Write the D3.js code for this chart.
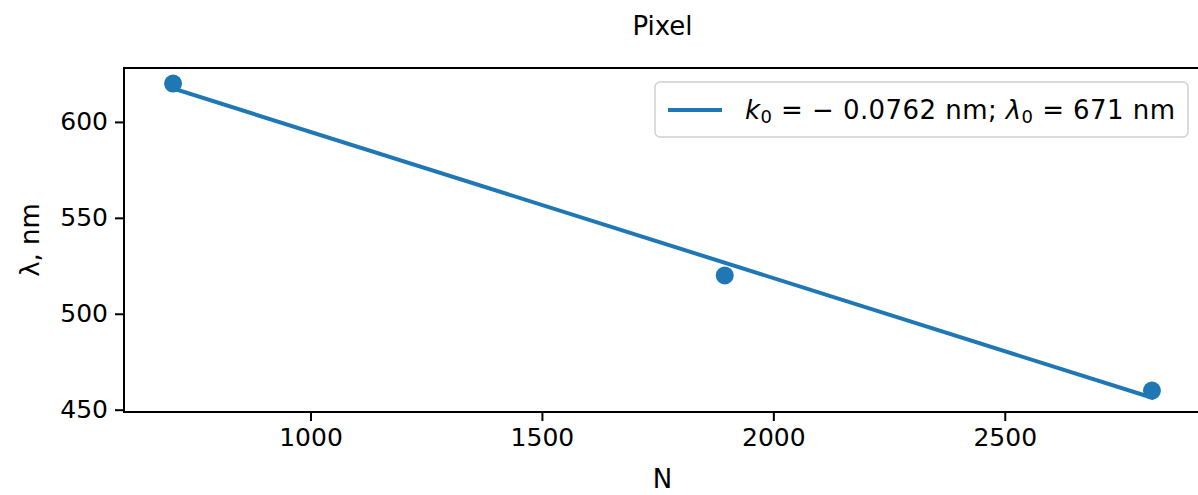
<!DOCTYPE html>
<html>
<head>
<meta charset="utf-8">
<script src="https://cdn.jsdelivr.net/npm/d3@7"></script>
<style>
  html, body { margin: 0; padding: 0; background: #fff; }
  svg { display: block; overflow: hidden; }
  text { font-family: "DejaVu Sans", sans-serif; fill: #000; }
</style>
</head>
<body>
<svg id="chart" width="1198" height="495"></svg>
<script>
// ---- data ----
const pixelN = [703, 1895, 2818];
const wavelength = [620, 520, 460];
const fitK = -0.0762;
const fitL0 = 671;
const xTicks = [1000, 1500, 2000, 2500];
const yTicks = [450, 500, 550, 600];
const xLimits = [597, 2924];
const yLimits = [448.8, 628.1];
const titleText = "Pixel";
const xLabelText = "N";
const yLabelText = "λ, nm";

const color = "#1f77b4";
const svg = d3.select("#chart");
const m = { left: 124, top: 68, right: 1201, bottom: 412 };

const x = d3.scaleLinear().domain(xLimits).range([m.left, m.right]);
const y = d3.scaleLinear().domain(yLimits).range([m.bottom, m.top]);

const fs = 25;

// fit line
const fitPts = pixelN.map(n => [n, fitL0 + fitK * n]);
svg.append("path")
  .datum([fitPts[0], fitPts[fitPts.length - 1]])
  .attr("d", d3.line().x(d => x(d[0])).y(d => y(d[1])))
  .attr("fill", "none").attr("stroke", color).attr("stroke-width", 4)
  .attr("stroke-linecap", "square");

// points
svg.selectAll("circle.pt").data(pixelN.map((n, i) => [n, wavelength[i]]))
  .enter().append("circle").attr("class", "pt")
  .attr("cx", d => x(d[0])).attr("cy", d => y(d[1]))
  .attr("r", 9).attr("fill", color);

// axes
const xAxis = d3.axisBottom(x).tickValues(xTicks).tickSize(9).tickPadding(7).tickFormat(d3.format("d"));
const yAxis = d3.axisLeft(y).tickValues(yTicks).tickSize(9).tickPadding(7).tickFormat(d3.format("d"));

const gx = svg.append("g").attr("transform", `translate(0,${m.bottom})`).call(xAxis);
const gy = svg.append("g").attr("transform", `translate(${m.left},0)`).call(yAxis);
[gx, gy].forEach(g => {
  g.select(".domain").remove();
  g.selectAll(".tick line").attr("stroke", "#000").attr("stroke-width", 2);
  g.selectAll(".tick text").attr("font-size", fs).attr("font-family", "DejaVu Sans").attr("fill", "#000");
});

// frame
svg.append("rect")
  .attr("x", m.left).attr("y", m.top)
  .attr("width", m.right - m.left).attr("height", m.bottom - m.top)
  .attr("fill", "none").attr("stroke", "#000").attr("stroke-width", 2);

// title and labels
const cx = (m.left + m.right) / 2;
svg.append("text").attr("x", cx).attr("y", 35).attr("text-anchor", "middle")
  .attr("font-size", 26).text(titleText);
svg.append("text").attr("x", cx).attr("y", 488).attr("text-anchor", "middle")
  .attr("font-size", 26).text(xLabelText);
svg.append("text").attr("transform", `translate(39,${(m.top + m.bottom) / 2}) rotate(-90)`)
  .attr("text-anchor", "middle").attr("font-size", 26).text(yLabelText);

// legend
const lg = svg.append("g");
lg.append("rect").attr("x", 655).attr("y", 82).attr("width", 533).attr("height", 55)
  .attr("rx", 5).attr("fill", "#fff").attr("fill-opacity", 0.8)
  .attr("stroke", "#d0d0d0").attr("stroke-width", 1.5);
lg.append("line").attr("x1", 668).attr("x2", 722).attr("y1", 110).attr("y2", 110)
  .attr("stroke", color).attr("stroke-width", 4);
const lt = lg.append("text").attr("x", 745).attr("y", 119).attr("font-size", 26)
  .attr("textLength", 430).attr("lengthAdjust", "spacing");
const kAbs = Math.abs(fitK).toFixed(4);
lt.append("tspan").attr("font-style", "italic").text("k");
lt.append("tspan").attr("font-size", 18).attr("dy", 4).text("0");
lt.append("tspan").attr("dy", -4).text(" = \u2212 " + kAbs + " nm; ");
lt.append("tspan").attr("font-style", "italic").text("λ");
lt.append("tspan").attr("font-size", 18).attr("dy", 4).text("0");
lt.append("tspan").attr("dy", -4).text(" = " + fitL0 + " nm");
</script>
</body>
</html>
